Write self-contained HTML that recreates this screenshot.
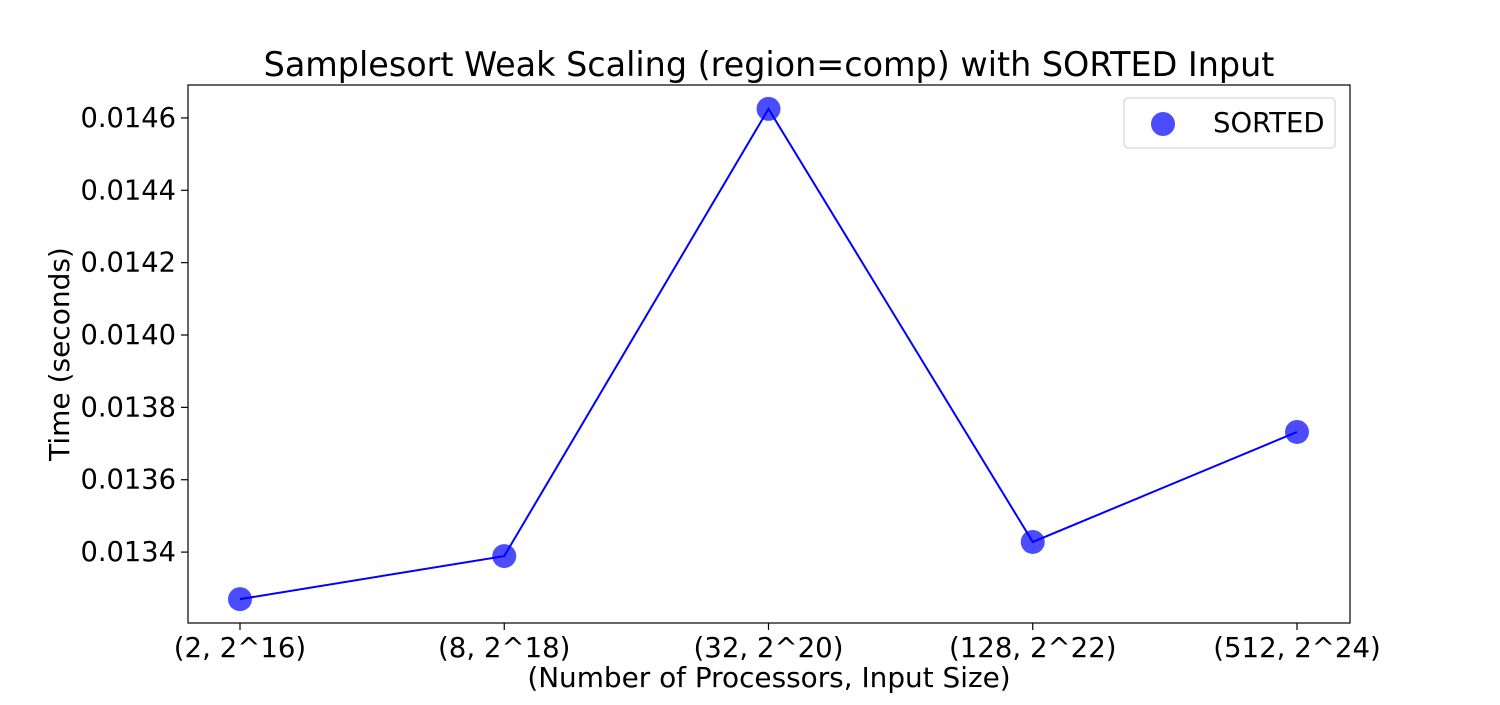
<!DOCTYPE html>
<html><head><meta charset="utf-8"><style>
body{margin:0;background:#fff;font-family:"Liberation Sans","DejaVu Sans",sans-serif}
</style></head><body>
<svg id="chart" width="1500" height="700" xmlns="http://www.w3.org/2000/svg" font-family="'DejaVu Sans','Liberation Sans',sans-serif">
<rect width="1500" height="700" fill="#fff"/>
<text x="769" y="76" font-size="33.4" text-anchor="middle">Samplesort Weak Scaling (region=comp) with SORTED Input</text>
<g id="plot"></g>
<rect x="188" y="85" width="1162" height="538" fill="none" stroke="#000" stroke-width="1.2"/>
<text x="769" y="687" font-size="27.9" text-anchor="middle">(Number of Processors, Input Size)</text>
<text transform="translate(69,354) rotate(-90)" font-size="28" text-anchor="middle">Time (seconds)</text>
<g>
<rect x="1124" y="98" width="211" height="50" rx="4" fill="#fff" stroke="#ccc"/>
<circle cx="1163" cy="124" r="12" fill="#0000ff" fill-opacity="0.7"/>
<text x="1213" y="132" font-size="27.5">SORTED</text>
</g>
</svg>
<script>
const categories=["(2, 2^16)","(8, 2^18)","(32, 2^20)","(128, 2^22)","(512, 2^24)"];
const values=[0.01327,0.013389,0.014625,0.013428,0.013732];
const yTicks=[0.0134,0.0136,0.0138,0.0140,0.0142,0.0144,0.0146];
const yTickLabels=["0.0134","0.0136","0.0138","0.0140","0.0142","0.0144","0.0146"];
const NS="http://www.w3.org/2000/svg";
const L=188,R=1350,T=85,B=623,yMin=0.013204,yMax=0.014691;
const xs=i=>240+i*(1297-240)/(categories.length-1);
const ys=v=>B-(v-yMin)/(yMax-yMin)*(B-T);
const g=document.getElementById('plot');
function mk(tag,at){const e=document.createElementNS(NS,tag);for(const k in at)e.setAttribute(k,at[k]);g.appendChild(e);return e;}
yTicks.forEach((t,i)=>{
 const y=ys(t);
 const tk=mk('line',{x1:L-7,x2:L,y1:y,y2:y,stroke:'#000','stroke-width':1.2});
 
 
 const lb=mk('text',{x:L-12,y:y+9,'font-size':27.3,'text-anchor':'end'});
 lb.textContent=yTickLabels[i];
 
 
});
categories.forEach((c,i)=>{
 const x=xs(i);
 const tk=mk('line',{x1:x,x2:x,y1:B,y2:B+7,stroke:'#000','stroke-width':1.2});
 
 
 const lb=mk('text',{x:x,y:B+34,'font-size':27.6,'text-anchor':'middle'});
 lb.textContent=c;
 
 
});
const pl=mk('polyline',{points:values.map((v,i)=>xs(i)+','+ys(v)).join(' '),fill:'none',stroke:'#0000ff','stroke-width':2});


values.forEach((v,i)=>{
 const c=mk('circle',{cx:xs(i),cy:ys(v),r:12,fill:'#0000ff','fill-opacity':0.7});
 
 
});
</script>
</body></html>
